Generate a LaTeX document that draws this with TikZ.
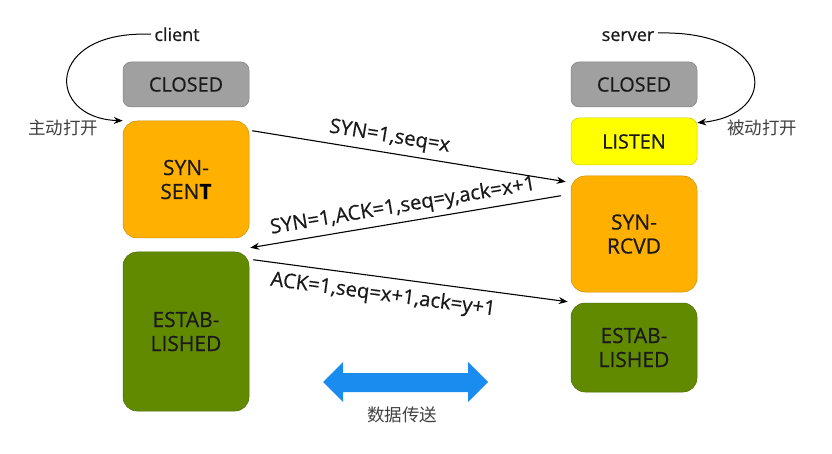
\documentclass[tikz,border=0pt]{standalone}
\usepackage{fontspec}
\setmainfont{Open Sans}[FakeBold=0.6]
\newfontfamily\medfont{Open Sans}[FakeBold=0.6]
\newfontfamily\cjk{Noto Sans CJK SC}
\usetikzlibrary{arrows.meta}
\definecolor{cgray}{HTML}{A0A0A0}
\definecolor{corange}{HTML}{FFB000}
\definecolor{cyellow}{HTML}{FFFF00}
\definecolor{cgreen}{HTML}{628A00}
\definecolor{cblue}{HTML}{1A8CF0}
\definecolor{ctext}{HTML}{1A1A1A}
\begin{document}
\begin{tikzpicture}[x=1pt,y=-1pt,
  state/.style={rectangle, rounded corners=14pt, minimum width=126pt, inner sep=0pt,
    align=center, font=\medfont\fontsize{21}{24}\selectfont, text=ctext,
    fill=#1, draw=#1!80!black, line width=0.5pt},
  smallstate/.style={state=#1, rounded corners=8pt, font=\medfont\fontsize{19.8}{23}\selectfont},
  msg/.style={-{Stealth[length=9pt,width=7pt]}, line width=1.1pt, black},
  msglabel/.style={font=\medfont\fontsize{20.3}{24}\selectfont, text=ctext, sloped},
  cnlabel/.style={font=\cjk\fontsize{17.5}{20}\selectfont, text=black!75},
  side/.style={font=\medfont\fontsize{18}{20}\selectfont, text=ctext, anchor=base}]
\useasboundingbox (0,0) rectangle (832,454);

% client column
\node[smallstate=cgray, minimum height=45pt] (closed1) at (186,84.5) {CLOSED};
\node[state=corange, minimum height=117pt] (sent) at (186,179.5) {SYN-\\SEN\textbf{\color{black}T}};
\node[state=cgreen, minimum height=159pt] (est1) at (186,331.5) {ESTAB-\\LISHED};

% server column
\node[smallstate=cgray, minimum height=45pt] (closed2) at (634,84.5) {CLOSED};
\node[smallstate=cyellow, minimum height=47pt] (listen) at (634,141.5) {LISTEN};
\node[state=corange, minimum height=116pt] (rcvd) at (634,234) {SYN-\\RCVD};
\node[state=cgreen, minimum height=89pt] (est2) at (634,347.5) {ESTAB-\\LISHED};

% titles
\node[side] (client) at (177,41) {client};
\node[side] (server) at (628,41) {server};
\node[cnlabel] (act) at (63,128) {主动打开};
\node[cnlabel] (pas) at (762,128) {被动打开};

% open curves
\draw[msg, line width=1pt] (client.west) .. controls (45,30) and (45,118) .. (sent.north west);
\draw[msg, line width=1pt] (server.east |- 0,33) .. controls (775,30) and (781,115) .. ([yshift=-5pt]listen.north east);

% messages
\draw[msg] ([xshift=3pt,yshift=-10pt]sent.north east) -- ([xshift=-5pt,yshift=-6pt]rcvd.north west)
  node[msglabel, above=2pt, pos=0.43] {SYN=1,seq=x};
\draw[msg] ([xshift=-10pt,yshift=-20pt]rcvd.north west) -- ([xshift=1pt,yshift=4pt]est1.north east)
  node[msglabel, above=1.5pt, pos=0.5] {SYN=1,ACK=1,seq=y,ack=x+1};
\draw[msg] ([xshift=4pt,yshift=-8pt]est1.north east) -- ([xshift=-3pt,yshift=1pt]est2.north west)
  node[msglabel, below=4pt, pos=0.42] {ACK=1,seq=x+1,ack=y+1};

% data transfer arrow
\fill[cblue] (323,382) -- (343,362) -- (343,373) -- (468,373) -- (468,362) -- (488,382)
  -- (468,402) -- (468,392) -- (343,392) -- (343,402) -- cycle;
\node[cnlabel] (data) at (402,415) {数据传送};
\end{tikzpicture}
\end{document}
